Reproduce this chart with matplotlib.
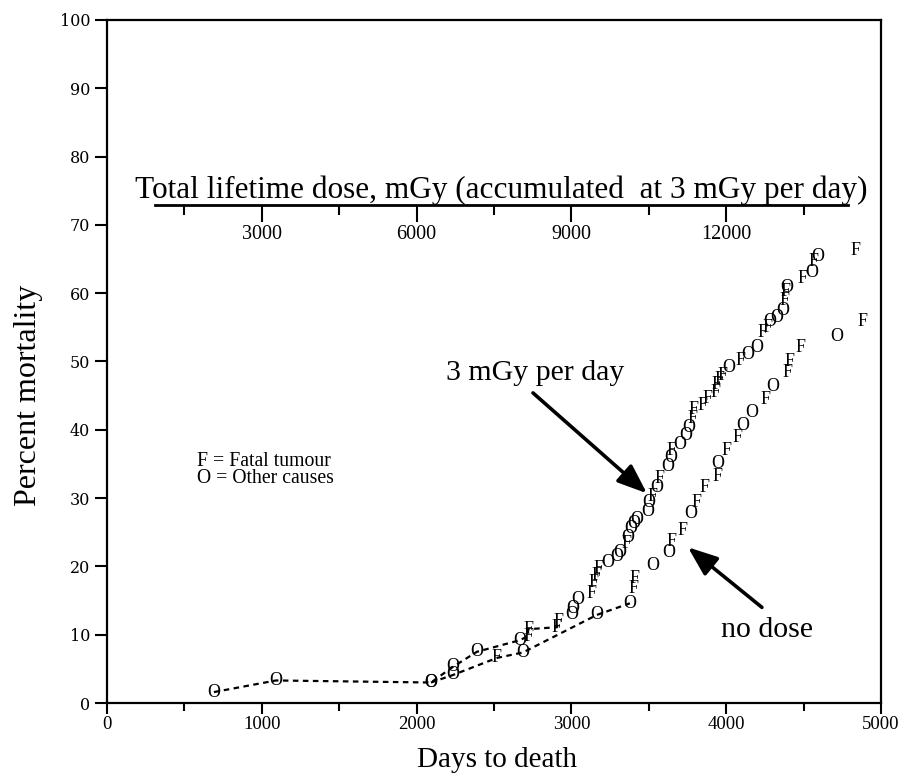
import matplotlib
matplotlib.use("Agg")
import matplotlib.pyplot as plt
from matplotlib.ticker import MultipleLocator

serif = "Liberation Serif"

# 3 mGy per day group (first three deaths are shared with the unexposed curve)
dose_days = [691, 1092, 2093, 2235, 2390, 2668, 2720, 2720, 2907, 2920,
             3004, 3010, 3043, 3127, 3140, 3165, 3178, 3236, 3295, 3314,
             3353, 3365, 3385, 3404, 3420, 3495, 3501, 3527, 3553, 3572,
             3624, 3643, 3650, 3701, 3740, 3760, 3785, 3792, 3844, 3882,
             3928, 3940, 3960, 3979, 4018, 4095, 4141, 4195, 4235, 4264,
             4283, 4328, 4367, 4380, 4386, 4393, 4496, 4554, 4561, 4593,
             4838]
dose_pct = [1.6, 3.3, 3.0, 5.3, 7.5, 9.2, 9.8, 10.8, 11.1, 11.9,
            12.9, 13.9, 15.1, 16.1, 17.6, 18.7, 19.7, 20.5, 21.4, 22.1,
            23.3, 24.2, 25.5, 26.3, 26.8, 28.0, 29.4, 30.2, 31.6, 32.9,
            34.6, 36.0, 37.0, 37.8, 39.1, 40.3, 41.7, 42.9, 43.6, 44.6,
            45.5, 46.6, 47.3, 48.0, 49.1, 50.2, 51.0, 52.1, 54.2, 55.0,
            55.8, 56.5, 57.5, 59.0, 60.2, 60.9, 62.1, 63.0, 64.6, 65.4,
            66.2]
dose_cause = list("OOOOOOFFFF" "OOOFFFFOOO" "FOOOOOOFOF" "OOFOOOFFFF"
                  "FFFFOFOOFF" "OOOFFOFOFO" "F")
dose_dashed = 10

# no dose group
ctrl_days = [2093, 2235, 2519, 2687, 3165, 3378, 3404, 3411, 3527, 3630,
             3650, 3721, 3770, 3811, 3857, 3947, 3947, 3999, 4073, 4109,
             4167, 4257, 4299, 4399, 4406, 4477, 4712, 4880]
ctrl_pct = [3.0, 4.1, 6.6, 7.4, 12.9, 14.6, 16.8, 18.3, 20.1, 22.0,
            23.7, 25.3, 27.8, 29.4, 31.5, 33.2, 35.1, 37.0, 38.8, 40.7,
            42.6, 44.4, 46.3, 48.4, 50.0, 52.0, 53.7, 55.8]
ctrl_cause = list("OOFOOOFFOO" "FFOFFFOFFO" "OFOFFFOF")
ctrl_dashed = 6

dose_ticks = [3000, 6000, 9000, 12000]
dose_minor = [1500, 4500, 7500, 10500, 13500]
mgy_per_day = 3

fig = plt.figure(figsize=(9.02, 7.78), dpi=100)
ax = fig.add_axes([0.1186, 0.0964, 0.8581, 0.8779])

# dashed joins for the early deaths
ax.plot(dose_days[:dose_dashed], dose_pct[:dose_dashed], ls=(0, (2.5, 2)),
        color="black", lw=1.6)
ax.plot(ctrl_days[:ctrl_dashed], ctrl_pct[:ctrl_dashed], ls=(0, (2.5, 2)),
        color="black", lw=1.6)

# letters as plot symbols
for days, pct, cause in [(dose_days, dose_pct, dose_cause),
                         (ctrl_days, ctrl_pct, ctrl_cause)]:
    for x, y, c in zip(days, pct, cause):
        ax.text(x, y, c, ha="center", va="center", fontsize=13, family=serif)

ax.set_xlim(0, 5000)
ax.set_ylim(0, 100)
ax.xaxis.set_major_locator(MultipleLocator(1000))
ax.xaxis.set_minor_locator(MultipleLocator(500))
ax.yaxis.set_major_locator(MultipleLocator(10))
ax.tick_params(axis="x", which="major", direction="out", length=8, width=1.5,
               pad=1, labelsize=13.5)
ax.tick_params(axis="x", which="minor", direction="out", length=6, width=1.5)
ax.tick_params(axis="y", direction="out", length=9, width=1.5, pad=3,
               labelsize=11.5)
for lab in ax.get_xticklabels():
    lab.set_family(serif)
for lab in ax.get_yticklabels():
    lab.set_family("DejaVu Serif")
for s in ax.spines.values():
    s.set_linewidth(1.6)

ax.set_xlabel("Days to death", family=serif, fontsize=21)
ax.xaxis.set_label_coords(0.504, -0.064)
ax.set_ylabel("Percent mortality", family=serif, fontsize=23)
ax.yaxis.set_label_coords(-0.083, 0.451)

# secondary dose scale drawn inside the plot
sub = ax.inset_axes([310, 72.9, 4477, 0.001], transform=ax.transData)
sub.set_xlim(310 * mgy_per_day, 4787 * mgy_per_day)
sub.set_ylim(0, 1)
sub.patch.set_visible(False)
for side in ["top", "left", "right"]:
    sub.spines[side].set_visible(False)
sub.spines["bottom"].set_linewidth(2)
sub.set_yticks([])
sub.set_xticks(dose_ticks)
sub.set_xticks(dose_minor, minor=True)
sub.tick_params(axis="x", which="major", direction="out", length=12, width=1.5,
                pad=2, labelsize=14.5)
sub.tick_params(axis="x", which="minor", direction="out", length=7, width=1.5)
for lab in sub.get_xticklabels():
    lab.set_family(serif)
sub.set_title("Total lifetime dose, mGy (accumulated  at 3 mGy per day)",
              family=serif, fontsize=22.5, pad=2)

ax.text(581, 34.1, "F = Fatal tumour\nO = Other causes", family=serif,
        fontsize=14.2, ha="left", va="center", linespacing=0.8)

arrow = dict(arrowstyle="-|>,head_length=1.8,head_width=0.7",
             color="black", lw=2.6, shrinkA=0, shrinkB=0)
ax.text(2765, 48.3, "3 mGy per day", family=serif, fontsize=21.5,
        ha="center", va="center")
ax.annotate("", xy=(3488, 30.7), xytext=(2752, 45.4), arrowprops=arrow)
ax.text(4264, 10.7, "no dose", family=serif, fontsize=21.5,
        ha="center", va="center")
ax.annotate("", xy=(3753, 22.8), xytext=(4231, 14.0), arrowprops=arrow)

fig.savefig("out.png", dpi=100)
